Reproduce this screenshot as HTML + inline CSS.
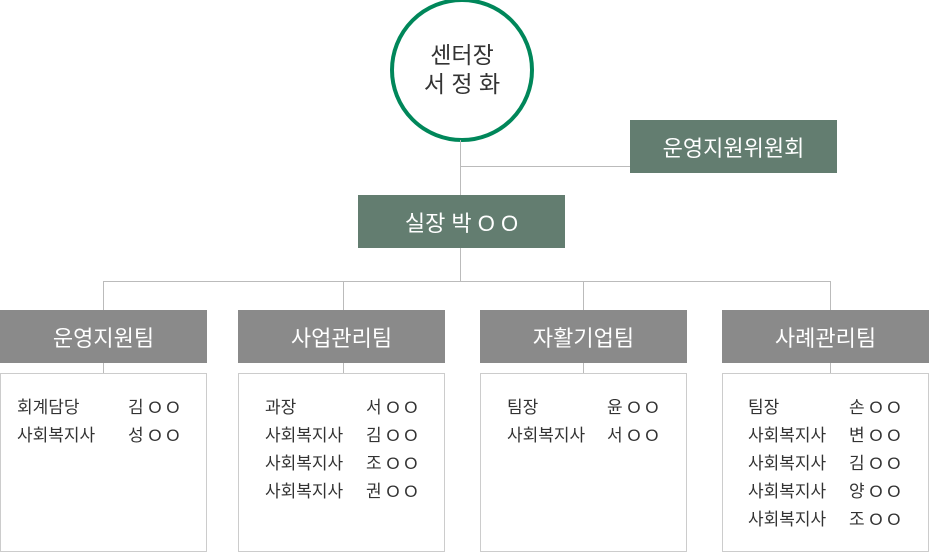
<!DOCTYPE html>
<html><head><meta charset="utf-8"><style>
body{margin:0;width:929px;height:554px;background:#fff;position:relative;overflow:hidden;font-family:"Liberation Sans","Noto Sans CJK KR",sans-serif;}
.a{position:absolute}
.ln{position:absolute;background:#bbb}
.bx{position:absolute;color:#fff;font-size:22px;display:flex;align-items:center;justify-content:center;height:53px}
.g{background:#637d70}
.t{background:#8a8a8a;top:310px;width:207px}
.c{position:absolute;top:373px;height:179px;border:1px solid #ccc;box-sizing:border-box;width:207px;font-size:17px;color:#333}
.r{position:absolute;white-space:nowrap;line-height:20px}
</style></head><body>
<div class="a" style="left:390px;top:-2px;width:136px;height:136px;border:4px solid #00875a;border-radius:50%;display:flex;flex-direction:column;align-items:center;justify-content:center;font-size:23px;color:#333;line-height:29px"><div>센터장</div><div>서 정 화</div></div>
<div class="ln" style="left:460px;top:140px;width:1px;height:55px"></div>
<div class="ln" style="left:460px;top:166px;width:170px;height:1px"></div>
<div class="bx g" style="left:630px;top:120px;width:207px">운영지원위원회</div>
<div class="bx g" style="left:358px;top:195px;width:207px">실장 박 O O</div>
<div class="ln" style="left:460px;top:248px;width:1px;height:33px"></div>
<div class="ln" style="left:103px;top:281px;width:728px;height:1px"></div>
<div class="ln" style="left:103px;top:281px;width:1px;height:29px"></div>
<div class="ln" style="left:343px;top:281px;width:1px;height:29px"></div>
<div class="ln" style="left:583px;top:281px;width:1px;height:29px"></div>
<div class="ln" style="left:830px;top:281px;width:1px;height:29px"></div>
<div class="ln" style="left:103px;top:363px;width:1px;height:10px"></div>
<div class="ln" style="left:343px;top:363px;width:1px;height:10px"></div>
<div class="ln" style="left:583px;top:363px;width:1px;height:10px"></div>
<div class="ln" style="left:830px;top:363px;width:1px;height:10px"></div>
<div class="bx t" style="left:0">운영지원팀</div>
<div class="bx t" style="left:238px">사업관리팀</div>
<div class="bx t" style="left:480px">자활기업팀</div>
<div class="bx t" style="left:722px">사례관리팀</div>
<div class="c" style="left:0">
<div class="r" style="left:16px;top:24px">회계담당</div><div class="r" style="left:127px;top:24px">김 O O</div>
<div class="r" style="left:16px;top:52px">사회복지사</div><div class="r" style="left:127px;top:52px">성 O O</div>
</div>
<div class="c" style="left:238px">
<div class="r" style="left:26px;top:24px">과장</div><div class="r" style="left:127px;top:24px">서 O O</div>
<div class="r" style="left:26px;top:52px">사회복지사</div><div class="r" style="left:127px;top:52px">김 O O</div>
<div class="r" style="left:26px;top:80px">사회복지사</div><div class="r" style="left:127px;top:80px">조 O O</div>
<div class="r" style="left:26px;top:108px">사회복지사</div><div class="r" style="left:127px;top:108px">권 O O</div>
</div>
<div class="c" style="left:480px">
<div class="r" style="left:26px;top:24px">팀장</div><div class="r" style="left:126px;top:24px">윤 O O</div>
<div class="r" style="left:26px;top:52px">사회복지사</div><div class="r" style="left:126px;top:52px">서 O O</div>
</div>
<div class="c" style="left:722px">
<div class="r" style="left:25px;top:24px">팀장</div><div class="r" style="left:126px;top:24px">손 O O</div>
<div class="r" style="left:25px;top:52px">사회복지사</div><div class="r" style="left:126px;top:52px">변 O O</div>
<div class="r" style="left:25px;top:80px">사회복지사</div><div class="r" style="left:126px;top:80px">김 O O</div>
<div class="r" style="left:25px;top:108px">사회복지사</div><div class="r" style="left:126px;top:108px">양 O O</div>
<div class="r" style="left:25px;top:136px">사회복지사</div><div class="r" style="left:126px;top:136px">조 O O</div>
</div>
</body></html>
